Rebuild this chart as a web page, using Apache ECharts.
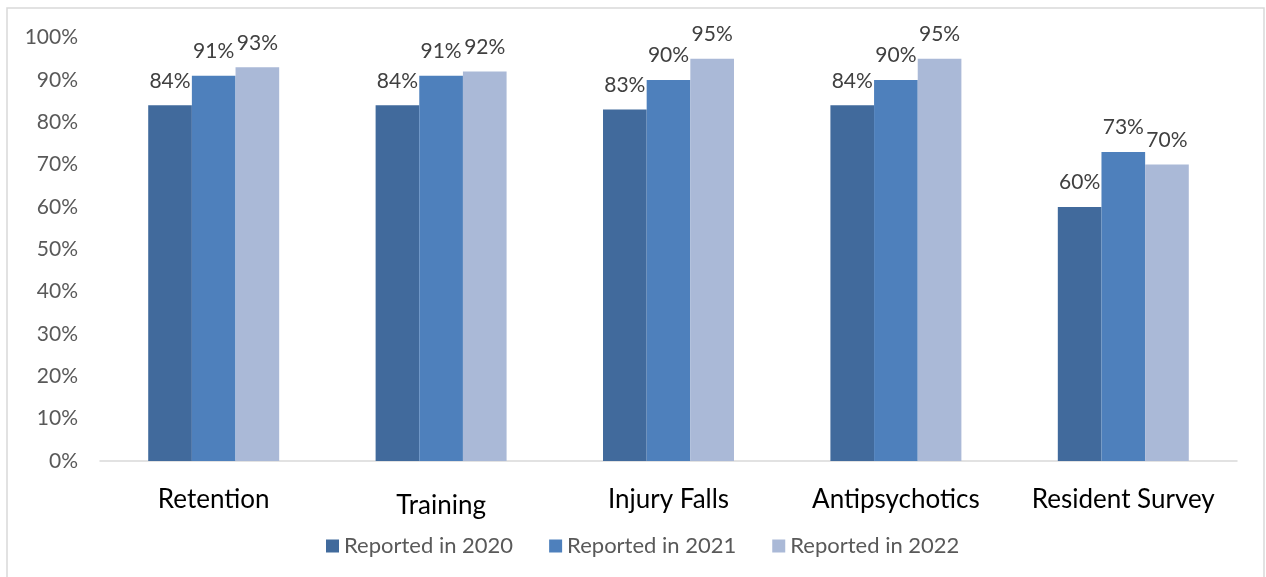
<!DOCTYPE html>
<html><head><meta charset="utf-8">
<script src="https://cdn.jsdelivr.net/npm/echarts@6/dist/echarts.min.js"></script>
<style>html,body{margin:0;padding:0;background:#fff}#c{width:1266px;height:577px}</style>
</head><body><div id="c"></div>
<script>
const categories = ['Retention', 'Training', 'Injury Falls', 'Antipsychotics', 'Resident Survey'];
const seriesNames = ['Reported in 2020', 'Reported in 2021', 'Reported in 2022'];
const reported2020 = [84, 84, 83, 84, 60];
const reported2021 = [91, 91, 90, 90, 73];
const reported2022 = [93, 92, 95, 95, 70];
const yTicks = [0, 10, 20, 30, 40, 50, 60, 70, 80, 90, 100];

const colors = ['#416A9C', '#4E80BC', '#AAB9D7'];
const FONT = 'Lato';
const chart = echarts.init(document.getElementById('c'));
const mk = (name, data, i) => ({
  name, type: 'bar', data, barGap: '0%', barCategoryGap: '42.4%',
  itemStyle: { color: colors[i] },
  label: { show: true, position: 'top', distance: 14, formatter: p => p.value + '%',
    color: '#404040', fontSize: 21, fontFamily: FONT },
  emphasis: { disabled: true }
});
chart.setOption({
  animation: false,
  textStyle: { fontFamily: FONT },
  graphic: [{ type: 'rect', shape: { x: 7, y: 8, width: 1257, height: 600 },
    style: { fill: 'none', stroke: '#D9D9D9', lineWidth: 1.5 }, silent: true }],
  grid: { left: 100, right: 29, top: 37.6, bottom: 116, containLabel: false },
  legend: { data: seriesNames, left: 321, top: 530, itemWidth: 13, itemHeight: 13, itemGap: 36,
    icon: 'rect', textStyle: { color: '#595959', fontSize: 22, fontFamily: FONT } },
  xAxis: { type: 'category', data: categories,
    axisLine: { lineStyle: { color: '#D9D9D9', width: 1.5 } }, axisTick: { show: false },
    axisLabel: { interval: 0, color: '#000', fontSize: 26, fontFamily: FONT, margin: 26,
      formatter: v => v === 'Training' ? '{b|' + v + '}' : v,
      rich: { b: { fontSize: 26, fontFamily: FONT, color: '#000', padding: [6, 0, 0, 0] } } } },
  yAxis: { type: 'value', min: 0, max: 100, interval: 10,
    axisLabel: { formatter: v => yTicks.includes(v) ? v + '%' : '', color: '#595959', fontSize: 21, fontFamily: FONT, margin: 22 },
    splitLine: { show: false }, axisLine: { show: false }, axisTick: { show: false } },
  series: [mk(seriesNames[0], reported2020, 0), mk(seriesNames[1], reported2021, 1), mk(seriesNames[2], reported2022, 2)]
});
</script></body></html>
